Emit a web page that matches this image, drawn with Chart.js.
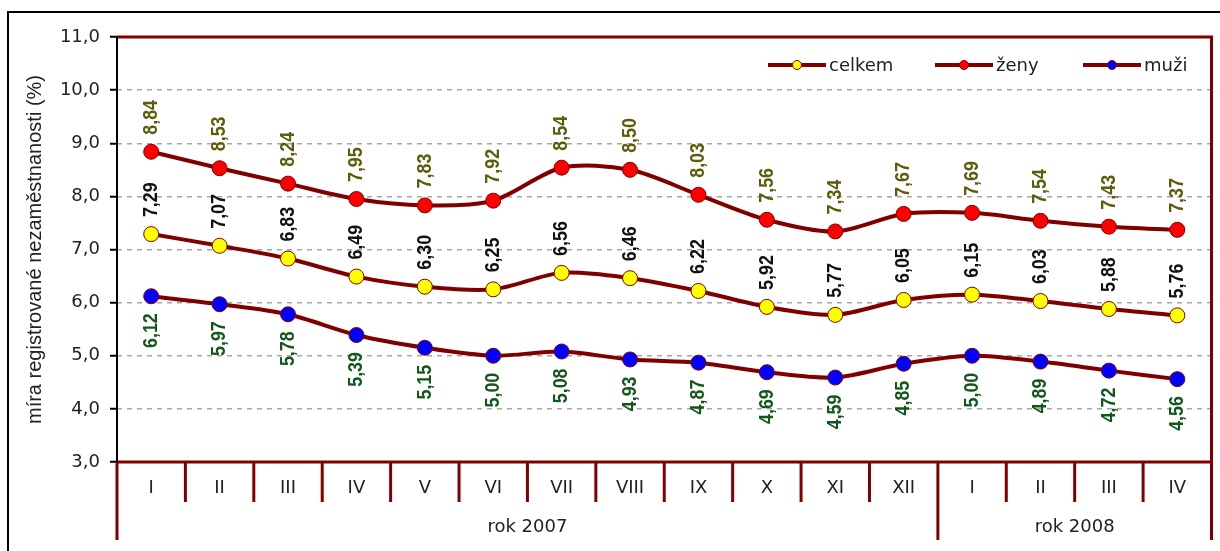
<!DOCTYPE html>
<html>
<head>
<meta charset="utf-8">
<script src="https://cdn.jsdelivr.net/npm/chart.js@4.4.1/dist/chart.umd.min.js"></script>
<style>
    html, body { margin: 0; padding: 0; background: #fff; overflow: hidden; }
</style>
</head>
<body>
<canvas id="graf" width="1220" height="551"></canvas>
<script>
// Kategorie na ose x (mesice) a skupiny (roky)
var mesice = ['I', 'II', 'III', 'IV', 'V', 'VI', 'VII', 'VIII', 'IX', 'X', 'XI', 'XII', 'I', 'II', 'III', 'IV'];
var rokyText = ['rok 2007', 'rok 2008'];
var rokyOd = [0, 12];
var rokyDo = [11, 15];

// Mira registrovane nezamestnanosti (%)
var celkem = [7.29, 7.07, 6.83, 6.49, 6.30, 6.25, 6.56, 6.46, 6.22, 5.92, 5.77, 6.05, 6.15, 6.03, 5.88, 5.76];
var zeny   = [8.84, 8.53, 8.24, 7.95, 7.83, 7.92, 8.54, 8.50, 8.03, 7.56, 7.34, 7.67, 7.69, 7.54, 7.43, 7.37];
var muzi   = [6.12, 5.97, 5.78, 5.39, 5.15, 5.00, 5.08, 4.93, 4.87, 4.69, 4.59, 4.85, 5.00, 4.89, 4.72, 4.56];

// Osa y
var osaMin = 3;
var osaMax = 11;
var osaKrok = 1;

var BARVY = {
    cara: '#800000',
    celkem: '#ffff00',
    zeny: '#ff0000',
    muzi: '#0000ff',
    popisZeny: '#5c5c0a',
    popisCelkem: '#111111',
    popisMuzi: '#12581a',
    mrizka: '#a6a6a6',
    text: '#222222'
};

var PISMO = "'DejaVu Sans', sans-serif";
var PISMO_POPISKY = "'Liberation Sans', Arial, sans-serif";

function carka(v, des) {
    return v.toFixed(des).replace('.', ',');
}

// Ramecek, oddelovace kategorii, roky a legenda
var ramecek = {
    id: 'ramecek',
    beforeDraw: function (chart) {
        var ctx = chart.ctx;
        ctx.save();
        ctx.fillStyle = '#fff';
        ctx.fillRect(0, 0, chart.width, chart.height);
        ctx.strokeStyle = '#000';
        ctx.lineWidth = 2;
        ctx.beginPath();
        ctx.moveTo(8, chart.height + 5);
        ctx.lineTo(8, 12);
        ctx.lineTo(chart.width + 5, 12);
        ctx.stroke();
        ctx.restore();
    },
    beforeDatasetsDraw: function (chart) {
        var ctx = chart.ctx;
        var a = chart.chartArea;
        var x = chart.scales.x;
        var dolni = 540;
        ctx.save();
        ctx.strokeStyle = BARVY.cara;
        ctx.lineWidth = 3;
        ctx.beginPath();
        // horni a prava hrana, osa x
        ctx.moveTo(a.left, a.top);
        ctx.lineTo(a.right, a.top);
        ctx.lineTo(a.right, dolni);
        ctx.moveTo(a.left, a.bottom);
        ctx.lineTo(a.right, a.bottom);
        ctx.moveTo(a.left, a.bottom);
        ctx.lineTo(a.left, dolni);
        ctx.stroke();

        // kratke oddelovace mesicu a dlouhe oddelovace roku
        var sirka = x.getPixelForValue(1) - x.getPixelForValue(0);
        for (var i = 1; i < mesice.length; i++) {
            var px = x.getPixelForValue(i) - sirka / 2;
            var dlouhy = rokyOd.indexOf(i) > 0;
            ctx.beginPath();
            ctx.moveTo(px, a.bottom);
            ctx.lineTo(px, dlouhy ? dolni : a.bottom + 40);
            ctx.stroke();
        }

        // osa y
        ctx.strokeStyle = '#000';
        ctx.lineWidth = 2;
        ctx.beginPath();
        ctx.moveTo(a.left, a.top);
        ctx.lineTo(a.left, a.bottom);
        ctx.stroke();

        // popisky roku
        ctx.fillStyle = BARVY.text;
        ctx.font = '18px ' + PISMO;
        ctx.textAlign = 'center';
        ctx.textBaseline = 'middle';
        rokyText.forEach(function (t, k) {
            var l = x.getPixelForValue(rokyOd[k]) - sirka / 2;
            var r = x.getPixelForValue(rokyDo[k]) + sirka / 2;
            ctx.fillText(t, (l + r) / 2, 527);
        });

        // legenda
        var polozky = [
            { text: 'celkem', barva: BARVY.celkem, x: 768 },
            { text: 'ženy', barva: BARVY.zeny, x: 935 },
            { text: 'muži', barva: BARVY.muzi, x: 1083 }
        ];
        var ly = 65;
        ctx.textAlign = 'left';
        polozky.forEach(function (p) {
            ctx.strokeStyle = BARVY.cara;
            ctx.lineWidth = 4;
            ctx.beginPath();
            ctx.moveTo(p.x, ly);
            ctx.lineTo(p.x + 58, ly);
            ctx.stroke();
            ctx.beginPath();
            ctx.arc(p.x + 29, ly, 4.5, 0, Math.PI * 2);
            ctx.fillStyle = p.barva;
            ctx.fill();
            ctx.lineWidth = 1;
            ctx.stroke();
            ctx.fillStyle = BARVY.text;
            ctx.fillText(p.text, p.x + 61, ly + 1);
        });
        ctx.restore();
    }
};

// Svisle popisky hodnot (uzke tucne pismo)
var popisky = {
    id: 'popisky',
    afterDatasetsDraw: function (chart) {
        var ctx = chart.ctx;
        chart.data.datasets.forEach(function (ds, i) {
            var meta = chart.getDatasetMeta(i);
            ctx.save();
            ctx.font = 'bold 21px ' + PISMO_POPISKY;
            ctx.fillStyle = ds.popisBarva;
            ctx.textBaseline = 'middle';
            meta.data.forEach(function (pt, j) {
                var txt = carka(ds.data[j], 2);
                ctx.save();
                ctx.translate(pt.x, pt.y);
                ctx.rotate(-Math.PI / 2);
                ctx.scale(0.85, 1);
                if (ds.popisDole) {
                    ctx.textAlign = 'right';
                    ctx.fillText(txt, -17 / 0.85, 0);
                } else {
                    ctx.textAlign = 'left';
                    ctx.fillText(txt, 17 / 0.85, 0);
                }
                ctx.restore();
            });
            ctx.restore();
        });
    }
};

function rada(nazev, data, barvaBodu, popisBarva, popisDole) {
    return {
        label: nazev,
        data: data,
        borderColor: BARVY.cara,
        borderWidth: 4,
        pointBackgroundColor: barvaBodu,
        pointBorderColor: BARVY.cara,
        pointBorderWidth: 1,
        pointRadius: 7.5,
        tension: 0.3,
        fill: false,
        popisBarva: popisBarva,
        popisDole: popisDole
    };
}

new Chart(document.getElementById('graf'), {
    type: 'line',
    data: {
        labels: mesice,
        datasets: [
            rada('celkem', celkem, BARVY.celkem, BARVY.popisCelkem, false),
            rada('ženy', zeny, BARVY.zeny, BARVY.popisZeny, false),
            rada('muži', muzi, BARVY.muzi, BARVY.popisMuzi, true)
        ]
    },
    options: {
        responsive: false,
        animation: false,
        devicePixelRatio: 1,
        layout: { padding: { top: 37, right: 8, bottom: 0, left: 0 } },
        plugins: {
            legend: { display: false },
            tooltip: { enabled: false }
        },
        scales: {
            x: {
                offset: true,
                grid: { display: false, drawTicks: false },
                border: { display: false },
                ticks: {
                    color: BARVY.text,
                    font: { family: PISMO, size: 18 },
                    padding: 16,
                    maxRotation: 0,
                    autoSkip: false
                },
                afterFit: function (s) { s.height = 89; }
            },
            y: {
                min: osaMin,
                max: osaMax,
                border: { display: false, dash: [5, 5] },
                grid: {
                    color: BARVY.mrizka,
                    lineWidth: 1.5,
                    tickColor: '#000',
                    tickLength: 7,
                    tickWidth: 2
                },
                ticks: {
                    stepSize: osaKrok,
                    color: BARVY.text,
                    font: { family: PISMO, size: 18 },
                    padding: 10,
                    callback: function (v) { return carka(v, 1); }
                },
                title: {
                    display: true,
                    text: 'míra registrované nezaměstnanosti (%)',
                    color: BARVY.text,
                    font: { family: "'Liberation Sans', Arial, sans-serif", size: 20 },
                    padding: { top: 23, bottom: 0 }
                },
                afterFit: function (s) { s.width = 117; }
            }
        }
    },
    plugins: [ramecek, popisky]
});
</script>
</body>
</html>
